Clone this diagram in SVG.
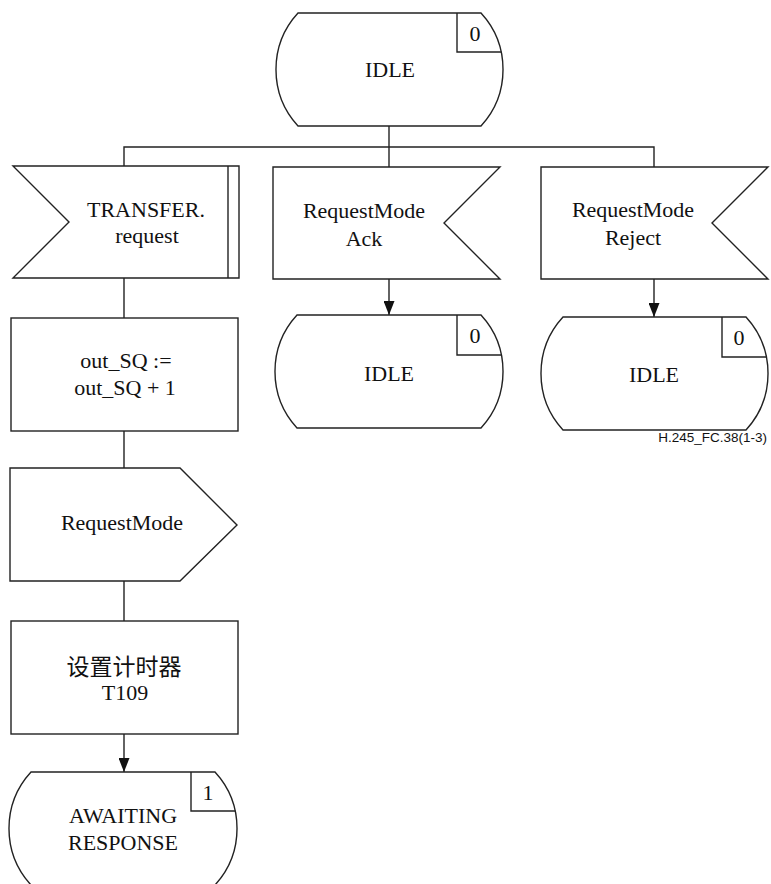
<svg xmlns="http://www.w3.org/2000/svg" width="771" height="884" viewBox="0 0 771 884">
<style>
.s{fill:#fff;stroke:#222;stroke-width:1.4}
.l{fill:none;stroke:#222;stroke-width:1.4}
.t{font-family:"Liberation Serif","Times New Roman",serif;font-size:22px;fill:#111;text-anchor:middle}
.n{font-family:"Liberation Serif","Times New Roman",serif;font-size:22px;fill:#111;text-anchor:middle}
.c{font-family:"Noto Sans CJK SC",sans-serif;font-size:23px;fill:#111;text-anchor:middle}
.lab{font-family:"Liberation Sans",Arial,sans-serif;font-size:13.5px;fill:#111;text-anchor:end}
</style>
<defs>
<marker id="arr" markerUnits="userSpaceOnUse" markerWidth="14" markerHeight="11" refX="14" refY="5.5" orient="auto">
<path d="M0,0 L14,5.5 L0,11 Z" fill="#111"/>
</marker>
</defs>
<g id="connectors">
<path class="l" d="M389,126 V147"/>
<path class="l" d="M124,166 V147 H654 V167"/>
<path class="l" d="M389,147 V167"/>
<path class="l" d="M124,278 V318"/>
<path class="l" d="M124,431 V468"/>
<path class="l" d="M124,581 V621"/>
<path class="l" d="M124,734 V772" marker-end="url(#arr)"/>
<path class="l" d="M389,279 V315" marker-end="url(#arr)"/>
<path class="l" d="M654,279 V317" marker-end="url(#arr)"/>
</g>
<g id="idle_top">
<path class="s" d="M298,13 H481 A83.5,83.5 0 0 1 481,126 H298 A83.5,83.5 0 0 1 298,13 Z"/>
<path class="l" d="M457,13 V52 H501.4"/>
<text class="n" x="475" y="41">0</text>
<text class="t" x="390" y="77">IDLE</text>
</g>
<g id="transfer_request">
<path class="s" d="M13,166 H239 V278 H13 L69,222 Z"/>
<path class="l" d="M228,166 V278"/>
<text class="t" x="146" y="217">TRANSFER.</text>
<text class="t" x="147" y="243">request</text>
</g>
<g id="requestmode_ack">
<path class="s" d="M273,167 H500 L444,223 L500,279 H273 Z"/>
<text class="t" x="364" y="218">RequestMode</text>
<text class="t" x="364" y="246">Ack</text>
</g>
<g id="requestmode_reject">
<path class="s" d="M541,167 H768 L712,223 L768,279 H541 Z"/>
<text class="t" x="633" y="217">RequestMode</text>
<text class="t" x="633" y="245">Reject</text>
</g>
<g id="idle_ack">
<path class="s" d="M297,315 H481 A83.5,83.5 0 0 1 481,428 H297 A83.5,83.5 0 0 1 297,315 Z"/>
<path class="l" d="M457,315 V355 H501.4"/>
<text class="n" x="475" y="343">0</text>
<text class="t" x="389" y="381">IDLE</text>
</g>
<g id="idle_reject">
<path class="s" d="M563,317 H746 A83.5,83.5 0 0 1 746,430 H563 A83.5,83.5 0 0 1 563,317 Z"/>
<path class="l" d="M722,317 V357 H766.4"/>
<text class="n" x="739" y="345">0</text>
<text class="t" x="654" y="382">IDLE</text>
</g>
<g id="inc_sq">
<rect class="s" x="11" y="318" width="227" height="113"/>
<text class="t" x="126" y="368">out_SQ :=</text>
<text class="t" x="125" y="395">out_SQ + 1</text>
</g>
<g id="send_requestmode">
<path class="s" d="M10,468 H180 L237,525 L180,581 H10 Z"/>
<text class="t" x="122" y="530">RequestMode</text>
</g>
<g id="set_timer">
<rect class="s" x="11" y="621" width="227" height="113"/>
<text class="c" x="124" y="675">设置计时器</text>
<text class="t" x="125" y="700">T109</text>
</g>
<g id="awaiting_response">
<path class="s" d="M31,772 H215 A83.5,83.5 0 0 1 215,885 H31 A83.5,83.5 0 0 1 31,772 Z"/>
<path class="l" d="M191,772 V811 H235.4"/>
<text class="n" x="208" y="800">1</text>
<text class="t" x="123" y="823">AWAITING</text>
<text class="t" x="123" y="850">RESPONSE</text>
</g>
<text class="lab" x="767" y="442">H.245_FC.38(1-3)</text>
</svg>
